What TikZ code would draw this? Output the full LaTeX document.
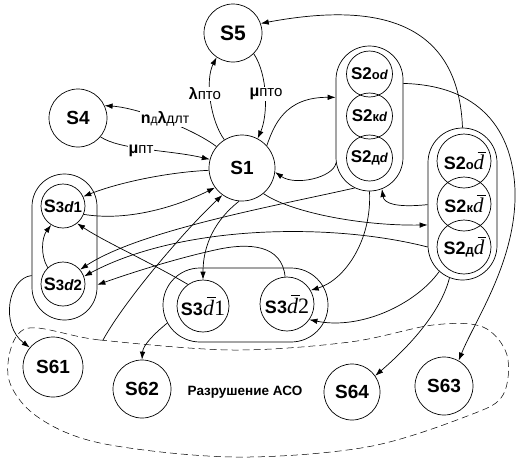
\documentclass[tikz,border=0pt]{standalone}
\usepackage{fontspec}
\setmainfont{Liberation Sans}
\newfontfamily\tnr{Liberation Serif}
\usetikzlibrary{arrows.meta,shapes.misc}
\newcommand{\fs}[1]{\fontsize{#1}{#1}\selectfont}
\newcommand{\dbar}{{\tnr\itshape\makebox[0pt][l]{\hspace{0.18em}\rule[0.78em]{0.42em}{0.05em}}d}}
\begin{document}
\begin{tikzpicture}[x=1pt,y=-1pt,line width=0.7pt,
  stnode/.style={circle,draw,inner sep=0pt,minimum size=#1,font=\fs{19}\bfseries},
  sub/.style={circle,draw,inner sep=0pt,minimum size=#1},
  capv/.style 2 args={rounded rectangle,draw,inner sep=0pt,minimum width=#1,minimum height=#2,rotate=90},
  caph/.style 2 args={rounded rectangle,draw,inner sep=0pt,minimum width=#1,minimum height=#2},
  arr/.style={-{Latex[length=8pt,width=5.5pt]}},
  lbl/.style={fill=white,inner sep=1pt}]
\useasboundingbox (0,0) rectangle (517,459);

% dashed region
\draw[dash pattern=on 7pt off 4pt,line width=0.5pt] plot[smooth cycle,tension=0.55] coordinates
 {(25,329) (100,340) (233,350) (350,342) (433,325) (483,327) (507,355) (503,395) (470,415) (367,447) (233,457) (100,443) (35,415) (8,375)};
\coordinate (Rtop) at (103,340);
\node[font=\fs{13.5}\bfseries] (RT) at (245,392) {Разрушение АСО};

% capsules
\node[capv={145pt}{67pt}] (S2L) at (369.5,118.5) {};
\node[capv={152pt}{69pt}] (S2R) at (462.5,204) {};
\node[capv={146pt}{65pt}] (S3L) at (64.5,247) {};
\node[caph={165pt}{74pt}] (S3B) at (245.5,305) {};

% simple states
\node[stnode=58pt,font=\fs{21}\bfseries] (S5) at (233,33) {S5};
\node[stnode=58pt] (S4) at (78,118) {S4};
\node[stnode=66pt] (S1) at (242,168) {S1};
\node[stnode=60pt] (S61) at (53,367) {S61};
\node[stnode=58pt] (S62) at (142,389) {S62};
\node[stnode=56pt] (S64) at (352,392) {S64};
\node[stnode=58pt] (S63) at (444,386) {S63};

% inner states
\node[sub=46pt] (S2od) at (369.5,74) {{\fs{17}\bfseries S2}{\fs{13}\bfseries о\textit{d}}};
\node[sub=46pt] (S2kd) at (369.5,116) {{\fs{17}\bfseries S2}{\fs{13}\bfseries к\textit{d}}};
\node[sub=46pt] (S2dd) at (369.5,158) {{\fs{17}\bfseries S2}{\fs{13}\bfseries д\textit{d}}};
\node[sub=54pt] (S2ob) at (464,161) {{\fs{18}\bfseries S2}{\fs{13}\bfseries о}{\fs{21}\dbar}};
\node[sub=54pt] (S2kb) at (464,204) {{\fs{18}\bfseries S2}{\fs{13}\bfseries к}{\fs{21}\dbar}};
\node[sub=54pt] (S2db) at (464,247) {{\fs{18}\bfseries S2}{\fs{13}\bfseries д}{\fs{21}\dbar}};
\node[sub=44pt] (S3d1) at (63,206) {{\fs{18}\bfseries S}{\fs{15}\bfseries 3\textit{d}1}};
\node[sub=44pt] (S3d2) at (63,284) {{\fs{18}\bfseries S}{\fs{15}\bfseries 3\textit{d}2}};
\node[sub=52pt] (S3b1) at (203,306) {{\fs{18}\bfseries S3}{\fs{22}\dbar{\tnr 1}}};
\node[sub=54pt] (S3b2) at (287,304) {{\fs{18}\bfseries S3}{\fs{22}\dbar{\tnr 2}}};

% connectors
\draw[arr] (S1.122) .. controls (210,120) and (205,80) .. (S5.236);
\draw[arr] (S5.315) .. controls (268,75) and (268,115) .. (S1.62);
\draw[arr] (S1.140) .. controls (195,130) and (140,108) .. (S4.25);
\draw[arr] (S4.320) .. controls (120,150) and (170,150) .. (S1.165);
\draw[arr] (S1.42) .. controls (274,125) and (285,97) .. (S2L.58.5);
\draw[arr] (S2L.143) .. controls (333,178) and (295,186) .. (S1.353);
\draw[arr] (S1.310) .. controls (290,212) and (360,226) .. (S2R.121.3);
\draw[arr] (S2R.91.7) .. controls (395,208) and (384,203) .. (S2L.190.8);
\draw[arr] (S2L.168.5) .. controls (280,205) and (140,230) .. (S3d2.40);
\draw[arr] (S2R.141.3) .. controls (330,222) and (180,225) .. (S3d2.20);
\draw[arr] (S3b2.94) .. controls (282,245) and (250,242) .. (215,250) .. controls (170,260) and (125,275) .. (S3L.221.3);
\draw[arr] (S3d2.133) .. controls (40,255) and (42,237) .. (S3d1.238);
\draw[arr] (S1.184) .. controls (170,172) and (120,182) .. (S3d1.25);
\draw[arr] (S3d1.338) .. controls (130,222) and (180,205) .. (S1.216);
\draw[arr] (Rtop) .. controls (125,300) and (185,230) .. (S1.234);
\draw[arr] (S3b1.125) .. controls (150,262) and (105,242) .. (S3d1.309);
\draw[arr] (S1.265) .. controls (215,220) and (203,245) .. (S3b1.90);
\draw[arr] (S2L.180) .. controls (372,240) and (345,280) .. (S3b2.30);
\draw[arr] (S2R.161) .. controls (415,305) and (360,330) .. (S3b2.325);
\draw[arr] (S2R.170) .. controls (440,315) and (405,350) .. (S64.35);
\draw[arr] (S2R.0) .. controls (458,10) and (360,5) .. (S5.19);
\draw[arr] (S2L.316) .. controls (470,85) and (512,120) .. (515,190) .. controls (517,260) and (475,320) .. (S63.60);
\draw[arr] (S3L.131) .. controls (8,278) and (0,325) .. (S61.140);
\draw[arr] (S3B.193) .. controls (155,333) and (143,345) .. (S62.90);

% labels
\node[lbl] (L1) at (205,94) {{\fs{16}\bfseries λ}{\fs{15}пто}};
\node[lbl] (L2) at (266,94) {{\fs{16}\bfseries μ}{\fs{15}пто}};
\node[lbl] (L3) at (165,119) {{\fs{16}\bfseries n}{\fs{12}д}{\fs{16}\bfseries λ}{\fs{14}длт}};
\node[lbl] (L4) at (141,151) {{\fs{16}\bfseries μ}{\fs{15}пт}};
\end{tikzpicture}
\end{document}
